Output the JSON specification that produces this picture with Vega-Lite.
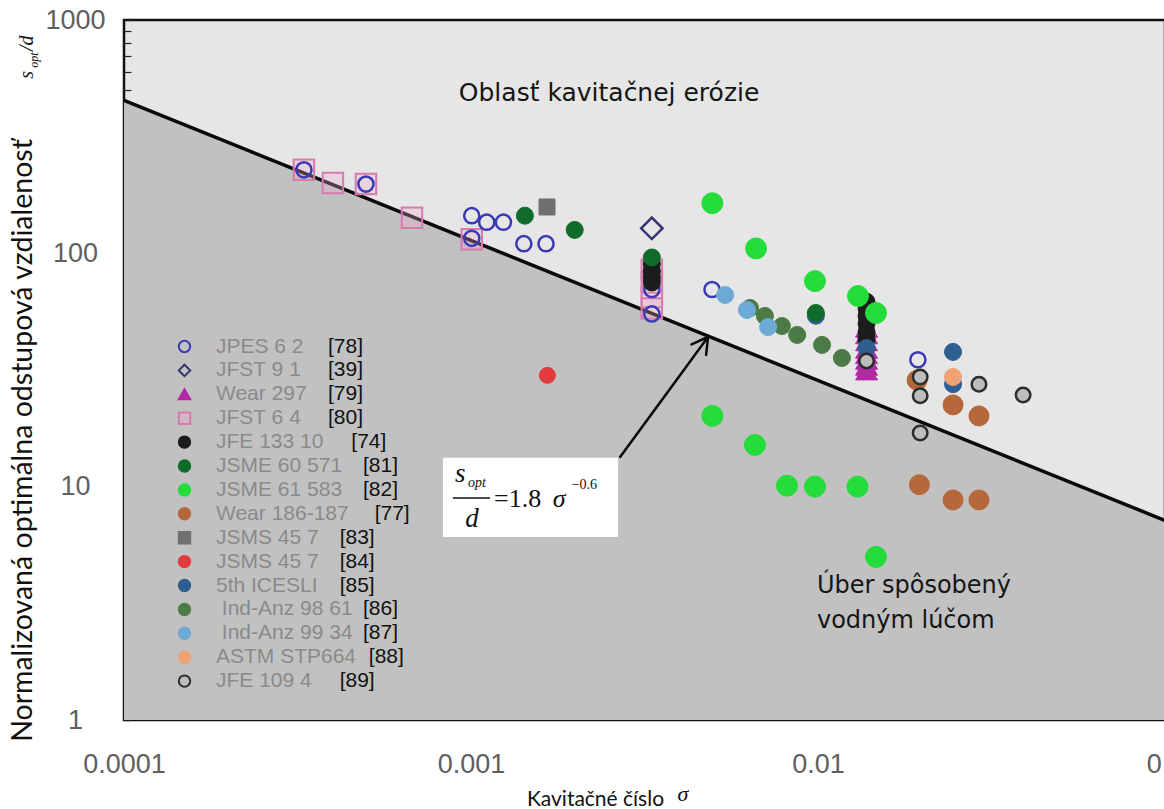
{
  "$schema": "https://vega.github.io/schema/vega-lite/v6.json",
  "width": 1041,
  "height": 700,
  "autosize": {"type": "none"},
  "padding": {"left": 124, "top": 20, "right": 0, "bottom": 89},
  "background": "#ffffff",
  "config": {
    "view": {"fill": "#e6e6e6", "stroke": "#111111", "strokeWidth": 2.5},
    "axis": {
      "domain": false,
      "grid": false,
      "tickColor": "#222222",
      "tickSize": -7,
      "tickWidth": 1.2,
      "labelFont": "Liberation Sans",
      "labelFontSize": 27,
      "labelColor": "#606060",
      "labelOverlap": false,
      "labelFlush": false,
      "titleFont": "Lato",
      "titleFontWeight": "normal",
      "titleColor": "#111111"
    },
    "legend": {
      "orient": "none",
      "legendX": 50,
      "legendY": 316,
      "padding": 0,
      "rowPadding": 1.9,
      "labelFont": "Liberation Sans",
      "labelFontSize": 21,
      "labelColor": "#8a8a8a",
      "labelLimit": 400,
      "labelOffset": 21,
      "symbolSize": 130,
      "symbolStrokeWidth": 2
    }
  },
  "datasets": {
    "fit": [
      {"sigma": 0.0001, "value": 452.14},
      {"sigma": 0.1, "value": 7.166}
    ],
    "points": [
      {"series": "JFST 6 4 [80]", "sigma": 0.00033, "value": 228},
      {"series": "JFST 6 4 [80]", "sigma": 0.0004, "value": 200},
      {"series": "JFST 6 4 [80]", "sigma": 0.000498, "value": 198},
      {"series": "JFST 6 4 [80]", "sigma": 0.000676, "value": 142},
      {"series": "JFST 6 4 [80]", "sigma": 0.001005, "value": 115},
      {"series": "JFST 6 4 [80]", "sigma": 0.00332, "value": 85},
      {"series": "JFST 6 4 [80]", "sigma": 0.00332, "value": 75},
      {"series": "JFST 6 4 [80]", "sigma": 0.00332, "value": 65},
      {"series": "JFST 6 4 [80]", "sigma": 0.00332, "value": 58},
      {"series": "Wear 297 [79]", "sigma": 0.0138, "value": 31.5},
      {"series": "Wear 297 [79]", "sigma": 0.0138, "value": 33},
      {"series": "Wear 297 [79]", "sigma": 0.0138, "value": 35},
      {"series": "Wear 297 [79]", "sigma": 0.0138, "value": 37},
      {"series": "Wear 297 [79]", "sigma": 0.0138, "value": 39},
      {"series": "Wear 297 [79]", "sigma": 0.0138, "value": 42},
      {"series": "Wear 297 [79]", "sigma": 0.0138, "value": 45},
      {"series": "Wear 297 [79]", "sigma": 0.0138, "value": 48},
      {"series": "JPES 6 2 [78]", "sigma": 0.00033, "value": 228},
      {"series": "JPES 6 2 [78]", "sigma": 0.000498, "value": 198},
      {"series": "JPES 6 2 [78]", "sigma": 0.001005, "value": 145},
      {"series": "JPES 6 2 [78]", "sigma": 0.00111, "value": 136},
      {"series": "JPES 6 2 [78]", "sigma": 0.00124, "value": 136},
      {"series": "JPES 6 2 [78]", "sigma": 0.00142, "value": 110},
      {"series": "JPES 6 2 [78]", "sigma": 0.001645, "value": 110},
      {"series": "JPES 6 2 [78]", "sigma": 0.001005, "value": 116},
      {"series": "JPES 6 2 [78]", "sigma": 0.00332, "value": 70},
      {"series": "JPES 6 2 [78]", "sigma": 0.00332, "value": 55},
      {"series": "JPES 6 2 [78]", "sigma": 0.00495, "value": 70},
      {"series": "JPES 6 2 [78]", "sigma": 0.0194, "value": 35},
      {"series": "JFST 9 1 [39]", "sigma": 0.00332, "value": 128},
      {"series": "JFE 133 10 [74]", "sigma": 0.00332, "value": 90},
      {"series": "JFE 133 10 [74]", "sigma": 0.00332, "value": 84},
      {"series": "JFE 133 10 [74]", "sigma": 0.00332, "value": 79},
      {"series": "JFE 133 10 [74]", "sigma": 0.00332, "value": 75},
      {"series": "JFE 133 10 [74]", "sigma": 0.0138, "value": 62},
      {"series": "JFE 133 10 [74]", "sigma": 0.0138, "value": 58},
      {"series": "JFE 133 10 [74]", "sigma": 0.0138, "value": 54},
      {"series": "JFE 133 10 [74]", "sigma": 0.0138, "value": 50},
      {"series": "JFE 133 10 [74]", "sigma": 0.0138, "value": 46},
      {"series": "JFE 133 10 [74]", "sigma": 0.0138, "value": 43},
      {"series": "5th ICESLI [85]", "sigma": 0.00986, "value": 54},
      {"series": "5th ICESLI [85]", "sigma": 0.0138, "value": 39.3},
      {"series": "5th ICESLI [85]", "sigma": 0.0245, "value": 37.8},
      {"series": "5th ICESLI [85]", "sigma": 0.0245, "value": 27.5},
      {"series": "JSME 60 571 [81]", "sigma": 0.00143, "value": 145},
      {"series": "JSME 60 571 [81]", "sigma": 0.00199, "value": 126},
      {"series": "JSME 60 571 [81]", "sigma": 0.00332, "value": 96},
      {"series": "JSME 60 571 [81]", "sigma": 0.00986, "value": 55.5},
      {"series": "JSME 61 583 [82]", "sigma": 0.00496, "value": 164},
      {"series": "JSME 61 583 [82]", "sigma": 0.00663, "value": 105},
      {"series": "JSME 61 583 [82]", "sigma": 0.0098, "value": 76},
      {"series": "JSME 61 583 [82]", "sigma": 0.01304, "value": 65.6},
      {"series": "JSME 61 583 [82]", "sigma": 0.01469, "value": 55.5},
      {"series": "JSME 61 583 [82]", "sigma": 0.00496, "value": 20.1},
      {"series": "JSME 61 583 [82]", "sigma": 0.00658, "value": 15.1},
      {"series": "JSME 61 583 [82]", "sigma": 0.00814, "value": 10.1},
      {"series": "JSME 61 583 [82]", "sigma": 0.0098, "value": 10},
      {"series": "JSME 61 583 [82]", "sigma": 0.013, "value": 10},
      {"series": "JSME 61 583 [82]", "sigma": 0.01469, "value": 5},
      {"series": "Wear 186-187 [77]", "sigma": 0.0193, "value": 28.6},
      {"series": "Wear 186-187 [77]", "sigma": 0.0245, "value": 22.4},
      {"series": "Wear 186-187 [77]", "sigma": 0.0291, "value": 20.1},
      {"series": "Wear 186-187 [77]", "sigma": 0.0196, "value": 10.2},
      {"series": "Wear 186-187 [77]", "sigma": 0.0245, "value": 8.77},
      {"series": "Wear 186-187 [77]", "sigma": 0.0291, "value": 8.77},
      {"series": "ASTM STP664 [88]", "sigma": 0.0245, "value": 29.5},
      {"series": "JSMS 45 7 [83]", "sigma": 0.001656, "value": 158},
      {"series": "JSMS 45 7 [84]", "sigma": 0.00166, "value": 30},
      {"series": "Ind-Anz 98 61 [86]", "sigma": 0.00637, "value": 58.3},
      {"series": "Ind-Anz 98 61 [86]", "sigma": 0.00703, "value": 53.9},
      {"series": "Ind-Anz 98 61 [86]", "sigma": 0.00787, "value": 48.8},
      {"series": "Ind-Anz 98 61 [86]", "sigma": 0.00871, "value": 44.7},
      {"series": "Ind-Anz 98 61 [86]", "sigma": 0.01027, "value": 40.5},
      {"series": "Ind-Anz 98 61 [86]", "sigma": 0.01172, "value": 35.6},
      {"series": "Ind-Anz 99 34 [87]", "sigma": 0.0054, "value": 66.3},
      {"series": "Ind-Anz 99 34 [87]", "sigma": 0.00624, "value": 57.2},
      {"series": "Ind-Anz 99 34 [87]", "sigma": 0.00718, "value": 48.3},
      {"series": "JFE 109 4 [89]", "sigma": 0.0138, "value": 34.6},
      {"series": "JFE 109 4 [89]", "sigma": 0.0197, "value": 29.5},
      {"series": "JFE 109 4 [89]", "sigma": 0.0197, "value": 24.5},
      {"series": "JFE 109 4 [89]", "sigma": 0.0197, "value": 17},
      {"series": "JFE 109 4 [89]", "sigma": 0.0291, "value": 27.5},
      {"series": "JFE 109 4 [89]", "sigma": 0.039, "value": 24.7}
    ]
  },
  "layer": [
    {
      "data": {"name": "fit"},
      "mark": {"type": "area", "fill": "#c1c1c1", "opacity": 1},
      "encoding": {
        "x": {
          "field": "sigma", "type": "quantitative",
          "scale": {"type": "log", "domain": [0.0001, 0.1], "nice": false},
          "axis": {
            "title": "Kavitačné číslo",
            "titleFontSize": 21,
            "titleX": 471,
            "titleY": 85,
            "titleAlign": "center",
            "titleBaseline": "alphabetic",
            "labelPadding": 38,
            "values": [0.0001, 0.0002, 0.0003, 0.0004, 0.0005, 0.0006, 0.0007, 0.0008, 0.0009, 0.001, 0.002, 0.003, 0.004, 0.005, 0.006, 0.007, 0.008, 0.009, 0.01, 0.02, 0.03, 0.04, 0.05, 0.06, 0.07, 0.08, 0.09, 0.1],
            "labelExpr": "datum.value === 0.0001 ? '0.0001' : datum.value === 0.001 ? '0.001' : datum.value === 0.01 ? '0.01' : datum.value === 0.1 ? '0.1' : ''"
          }
        },
        "y": {
          "field": "value", "type": "quantitative",
          "scale": {"type": "log", "domain": [1, 1000], "nice": false},
          "axis": {
            "title": "Normalizovaná optimálna odstupová vzdialenosť",
            "titleFontSize": 28.5,
            "titleX": -102,
            "titleY": 420,
            "titleAngle": 270,
            "titleAlign": "center",
            "titleBaseline": "middle",
            "labelPadding": 56,
            "labelAlign": "center",
            "values": [1, 2, 3, 4, 5, 6, 7, 8, 9, 10, 20, 30, 40, 50, 60, 70, 80, 90, 100, 200, 300, 400, 500, 600, 700, 800, 900, 1000],
            "labelExpr": "datum.value === 1 ? '1' : datum.value === 10 ? '10' : datum.value === 100 ? '100' : datum.value === 1000 ? '1000' : ''"
          }
        },
        "y2": {"datum": 1}
      }
    },
    {
      "data": {"name": "fit"},
      "mark": {"type": "line", "color": "#0a0a0a", "strokeWidth": 3.5},
      "encoding": {
        "x": {"field": "sigma", "type": "quantitative"},
        "y": {"field": "value", "type": "quantitative"}
      }
    },
    {
      "data": {"values": [{}]},
      "mark": {"type": "rect", "fill": "#ffffff"},
      "encoding": {
        "x": {"datum": 0.00083, "type": "quantitative"},
        "x2": {"datum": 0.00265},
        "y": {"datum": 13.3, "type": "quantitative"},
        "y2": {"datum": 6.08}
      }
    },
    {
      "data": {"values": [{}]},
      "mark": {"type": "rule", "color": "#0a0a0a", "strokeWidth": 2.5},
      "encoding": {
        "x": {"datum": 0.00268, "type": "quantitative"},
        "x2": {"datum": 0.00482},
        "y": {"datum": 13.3, "type": "quantitative"},
        "y2": {"datum": 43.8}
      }
    },
    {
      "data": {"values": [{}]},
      "mark": {"type": "rule", "color": "#0a0a0a", "strokeWidth": 2.5, "strokeCap": "round"},
      "encoding": {
        "x": {"datum": 0.00432, "type": "quantitative"},
        "x2": {"datum": 0.00482},
        "y": {"datum": 40.7, "type": "quantitative"},
        "y2": {"datum": 43.8}
      }
    },
    {
      "data": {"values": [{}]},
      "mark": {"type": "rule", "color": "#0a0a0a", "strokeWidth": 2.5, "strokeCap": "round"},
      "encoding": {
        "x": {"datum": 0.00476, "type": "quantitative"},
        "x2": {"datum": 0.00482},
        "y": {"datum": 36.7, "type": "quantitative"},
        "y2": {"datum": 43.8}
      }
    },
    {
      "data": {"values": [{}]},
      "mark": {"type": "rule", "color": "#111111", "strokeWidth": 1.5},
      "encoding": {
        "x": {"datum": 0.000887, "type": "quantitative"},
        "x2": {"datum": 0.001135},
        "y": {"datum": 8.94, "type": "quantitative"}
      }
    },
    {
      "data": {"values": [{}]},
      "mark": {"type": "text", "text": "s", "font": "Liberation Serif", "fontStyle": "italic", "fontSize": 27, "align": "left", "baseline": "alphabetic", "color": "#111111"},
      "encoding": {
        "x": {"datum": 0.000899, "type": "quantitative"},
        "y": {"datum": 10.47, "type": "quantitative"}
      }
    },
    {
      "data": {"values": [{}]},
      "mark": {"type": "text", "text": "opt", "font": "Liberation Serif", "fontStyle": "italic", "fontSize": 14, "align": "left", "baseline": "alphabetic", "color": "#111111"},
      "encoding": {
        "x": {"datum": 0.00098, "type": "quantitative"},
        "y": {"datum": 9.97, "type": "quantitative"}
      }
    },
    {
      "data": {"values": [{}]},
      "mark": {"type": "text", "text": "d", "font": "Liberation Serif", "fontStyle": "italic", "fontSize": 27, "align": "center", "baseline": "alphabetic", "color": "#111111"},
      "encoding": {
        "x": {"datum": 0.001007, "type": "quantitative"},
        "y": {"datum": 6.71, "type": "quantitative"}
      }
    },
    {
      "data": {"values": [{}]},
      "mark": {"type": "text", "text": "=1.8", "font": "Liberation Serif", "fontSize": 26, "align": "left", "baseline": "alphabetic", "color": "#111111"},
      "encoding": {
        "x": {"datum": 0.001165, "type": "quantitative"},
        "y": {"datum": 8.18, "type": "quantitative"}
      }
    },
    {
      "data": {"values": [{}]},
      "mark": {"type": "text", "text": "σ", "font": "Liberation Serif", "fontStyle": "italic", "fontSize": 26, "align": "left", "baseline": "alphabetic", "color": "#111111"},
      "encoding": {
        "x": {"datum": 0.00172, "type": "quantitative"},
        "y": {"datum": 8.18, "type": "quantitative"}
      }
    },
    {
      "data": {"values": [{}]},
      "mark": {"type": "text", "text": "−0.6", "font": "Liberation Serif", "fontSize": 14, "align": "left", "baseline": "alphabetic", "color": "#111111"},
      "encoding": {
        "x": {"datum": 0.00195, "type": "quantitative"},
        "y": {"datum": 9.77, "type": "quantitative"}
      }
    },
    {
      "data": {"values": [{}]},
      "mark": {"type": "text", "text": "Oblasť kavitačnej erózie", "font": "DejaVu Sans", "fontSize": 25, "align": "center", "baseline": "middle", "color": "#151515"},
      "encoding": {
        "x": {"datum": 0.0025, "type": "quantitative"},
        "y": {"datum": 486, "type": "quantitative"}
      }
    },
    {
      "data": {"values": [{}]},
      "mark": {"type": "text", "text": ["Úber spôsobený", "vodným lúčom"], "lineHeight": 35, "font": "DejaVu Sans", "fontSize": 24, "align": "left", "baseline": "alphabetic", "color": "#151515"},
      "encoding": {
        "x": {"datum": 0.00993, "type": "quantitative"},
        "y": {"datum": 3.5, "type": "quantitative"}
      }
    },
    {
      "data": {"values": [{}]},
      "mark": {"type": "text", "text": "s", "font": "Liberation Serif", "fontStyle": "italic", "fontSize": 20, "angle": 270, "align": "left", "baseline": "alphabetic", "color": "#111111"},
      "encoding": {
        "x": {"datum": 0.0000545, "type": "quantitative"},
        "y": {"datum": 560, "type": "quantitative"}
      }
    },
    {
      "data": {"values": [{}]},
      "mark": {"type": "text", "text": "opt", "font": "Liberation Serif", "fontStyle": "italic", "fontSize": 12, "angle": 270, "align": "left", "baseline": "alphabetic", "color": "#111111"},
      "encoding": {
        "x": {"datum": 0.0000565, "type": "quantitative"},
        "y": {"datum": 625, "type": "quantitative"}
      }
    },
    {
      "data": {"values": [{}]},
      "mark": {"type": "text", "text": "/d", "font": "Liberation Serif", "fontStyle": "italic", "fontSize": 20, "angle": 270, "align": "left", "baseline": "alphabetic", "color": "#111111"},
      "encoding": {
        "x": {"datum": 0.0000545, "type": "quantitative"},
        "y": {"datum": 736, "type": "quantitative"}
      }
    },
    {
      "data": {"values": [{}]},
      "mark": {"type": "text", "text": "σ", "font": "Liberation Serif", "fontStyle": "italic", "fontSize": 22, "align": "center", "baseline": "alphabetic", "color": "#111111"},
      "encoding": {
        "x": {"datum": 0.00408, "type": "quantitative"},
        "y": {"datum": 0.45, "type": "quantitative"}
      }
    },
    {
      "data": {"name": "points"},
      "mark": {"type": "point", "filled": true, "opacity": 1},
      "encoding": {
        "x": {"field": "sigma", "type": "quantitative"},
        "y": {"field": "value", "type": "quantitative"},
        "shape": {
          "field": "series", "type": "nominal", "title": null,
          "scale": {
            "domain": ["JPES 6 2 [78]", "JFST 9 1 [39]", "Wear 297 [79]", "JFST 6 4 [80]", "JFE 133 10 [74]", "JSME 60 571 [81]", "JSME 61 583 [82]", "Wear 186-187 [77]", "JSMS 45 7 [83]", "JSMS 45 7 [84]", "5th ICESLI [85]", "Ind-Anz 98 61 [86]", "Ind-Anz 99 34 [87]", "ASTM STP664 [88]", "JFE 109 4 [89]"],
            "range": ["circle", "diamond", "triangle-up", "square", "circle", "circle", "circle", "circle", "square", "circle", "circle", "circle", "circle", "circle", "circle"]
          }
        },
        "stroke": {
          "field": "series", "type": "nominal", "title": null,
          "scale": {
            "domain": ["JPES 6 2 [78]", "JFST 9 1 [39]", "Wear 297 [79]", "JFST 6 4 [80]", "JFE 133 10 [74]", "JSME 60 571 [81]", "JSME 61 583 [82]", "Wear 186-187 [77]", "JSMS 45 7 [83]", "JSMS 45 7 [84]", "5th ICESLI [85]", "Ind-Anz 98 61 [86]", "Ind-Anz 99 34 [87]", "ASTM STP664 [88]", "JFE 109 4 [89]"],
            "range": ["#3a3ab4", "#35356e", "#b02aa6", "#d77aae", "#1c1c1c", "#116b2a", "#24dc3a", "#b5683a", "#707070", "#e23c3c", "#2f5f91", "#4c7b47", "#6eaad6", "#efa274", "#2c2c2c"]
          }
        },
        "fill": {
          "field": "series", "type": "nominal", "title": null,
          "scale": {
            "domain": ["JPES 6 2 [78]", "JFST 9 1 [39]", "Wear 297 [79]", "JFST 6 4 [80]", "JFE 133 10 [74]", "JSME 60 571 [81]", "JSME 61 583 [82]", "Wear 186-187 [77]", "JSMS 45 7 [83]", "JSMS 45 7 [84]", "5th ICESLI [85]", "Ind-Anz 98 61 [86]", "Ind-Anz 99 34 [87]", "ASTM STP664 [88]", "JFE 109 4 [89]"],
            "range": ["transparent", "transparent", "#b02aa6", "rgba(240,170,210,0.3)", "#1c1c1c", "#116b2a", "#24dc3a", "#b5683a", "#707070", "#e23c3c", "#2f5f91", "#4c7b47", "#6eaad6", "#efa274", "#bdbdbd"]
          },
          "legend": {
            "labelExpr": "(indexof(datum.label, 'Ind') === 0 ? '\u200b\u00a0' : '') + split(datum.label, ' [')[0]"
          }
        },
        "opacity": {
          "field": "series", "type": "nominal", "title": null,
          "scale": {
            "type": "ordinal",
            "domain": ["JPES 6 2 [78]", "JFST 9 1 [39]", "Wear 297 [79]", "JFST 6 4 [80]", "JFE 133 10 [74]", "JSME 60 571 [81]", "JSME 61 583 [82]", "Wear 186-187 [77]", "JSMS 45 7 [83]", "JSMS 45 7 [84]", "5th ICESLI [85]", "Ind-Anz 98 61 [86]", "Ind-Anz 99 34 [87]", "ASTM STP664 [88]", "JFE 109 4 [89]", "zz"],
            "range": [1, 1, 1, 1, 1, 1, 1, 1, 1, 1, 1, 1, 1, 1, 1, 1]
          },
          "legend": {
            "legendX": 162,
            "labelColor": "#111111",
            "symbolFillColor": "transparent",
            "symbolStrokeColor": "transparent",
            "labelExpr": "datum.label === 'zz' ? '' : (datum.label === 'JFE 133 10 [74]' ? '\u200b\u00a0\u00a0\u00a0\u00a0' : (datum.label === 'JSME 60 571 [81]' || datum.label === 'JSME 61 583 [82]' || datum.label === 'Ind-Anz 98 61 [86]' || datum.label === 'Ind-Anz 99 34 [87]') ? '\u200b\u00a0\u00a0\u00a0\u00a0\u00a0\u00a0' : datum.label === 'Wear 186-187 [77]' ? '\u200b\u00a0\u00a0\u00a0\u00a0\u00a0\u00a0\u00a0\u00a0' : datum.label === 'ASTM STP664 [88]' ? '\u200b\u00a0\u00a0\u00a0\u00a0\u00a0\u00a0\u00a0' : (datum.label === 'JSMS 45 7 [83]' || datum.label === 'JSMS 45 7 [84]' || datum.label === '5th ICESLI [85]' || datum.label === 'JFE 109 4 [89]') ? '\u200b\u00a0\u00a0' : '') + '[' + split(datum.label, ' [')[1]"
          }
        },
        "size": {
          "field": "series", "type": "nominal", "legend": null,
          "scale": {
            "type": "ordinal",
            "domain": ["5th ICESLI [85]", "ASTM STP664 [88]", "Ind-Anz 98 61 [86]", "Ind-Anz 99 34 [87]", "JFE 109 4 [89]", "JFE 133 10 [74]", "JFST 6 4 [80]", "JFST 9 1 [39]", "JPES 6 2 [78]", "JSME 60 571 [81]", "JSME 61 583 [82]", "JSMS 45 7 [83]", "JSMS 45 7 [84]", "Wear 186-187 [77]", "Wear 297 [79]"],
            "range": [289, 289, 289, 289, 210, 289, 420, 460, 230, 289, 441, 256, 256, 400, 480]
          }
        },
        "strokeWidth": {
          "field": "series", "type": "nominal", "legend": null,
          "scale": {
            "type": "ordinal",
            "domain": ["5th ICESLI [85]", "ASTM STP664 [88]", "Ind-Anz 98 61 [86]", "Ind-Anz 99 34 [87]", "JFE 109 4 [89]", "JFE 133 10 [74]", "JFST 6 4 [80]", "JFST 9 1 [39]", "JPES 6 2 [78]", "JSME 60 571 [81]", "JSME 61 583 [82]", "JSMS 45 7 [83]", "JSMS 45 7 [84]", "Wear 186-187 [77]", "Wear 297 [79]"],
            "range": [1, 1, 1, 1, 2.5, 1, 2, 2.5, 2.5, 1, 1, 1, 1, 1, 1]
          }
        }
      }
    }
  ]
}
